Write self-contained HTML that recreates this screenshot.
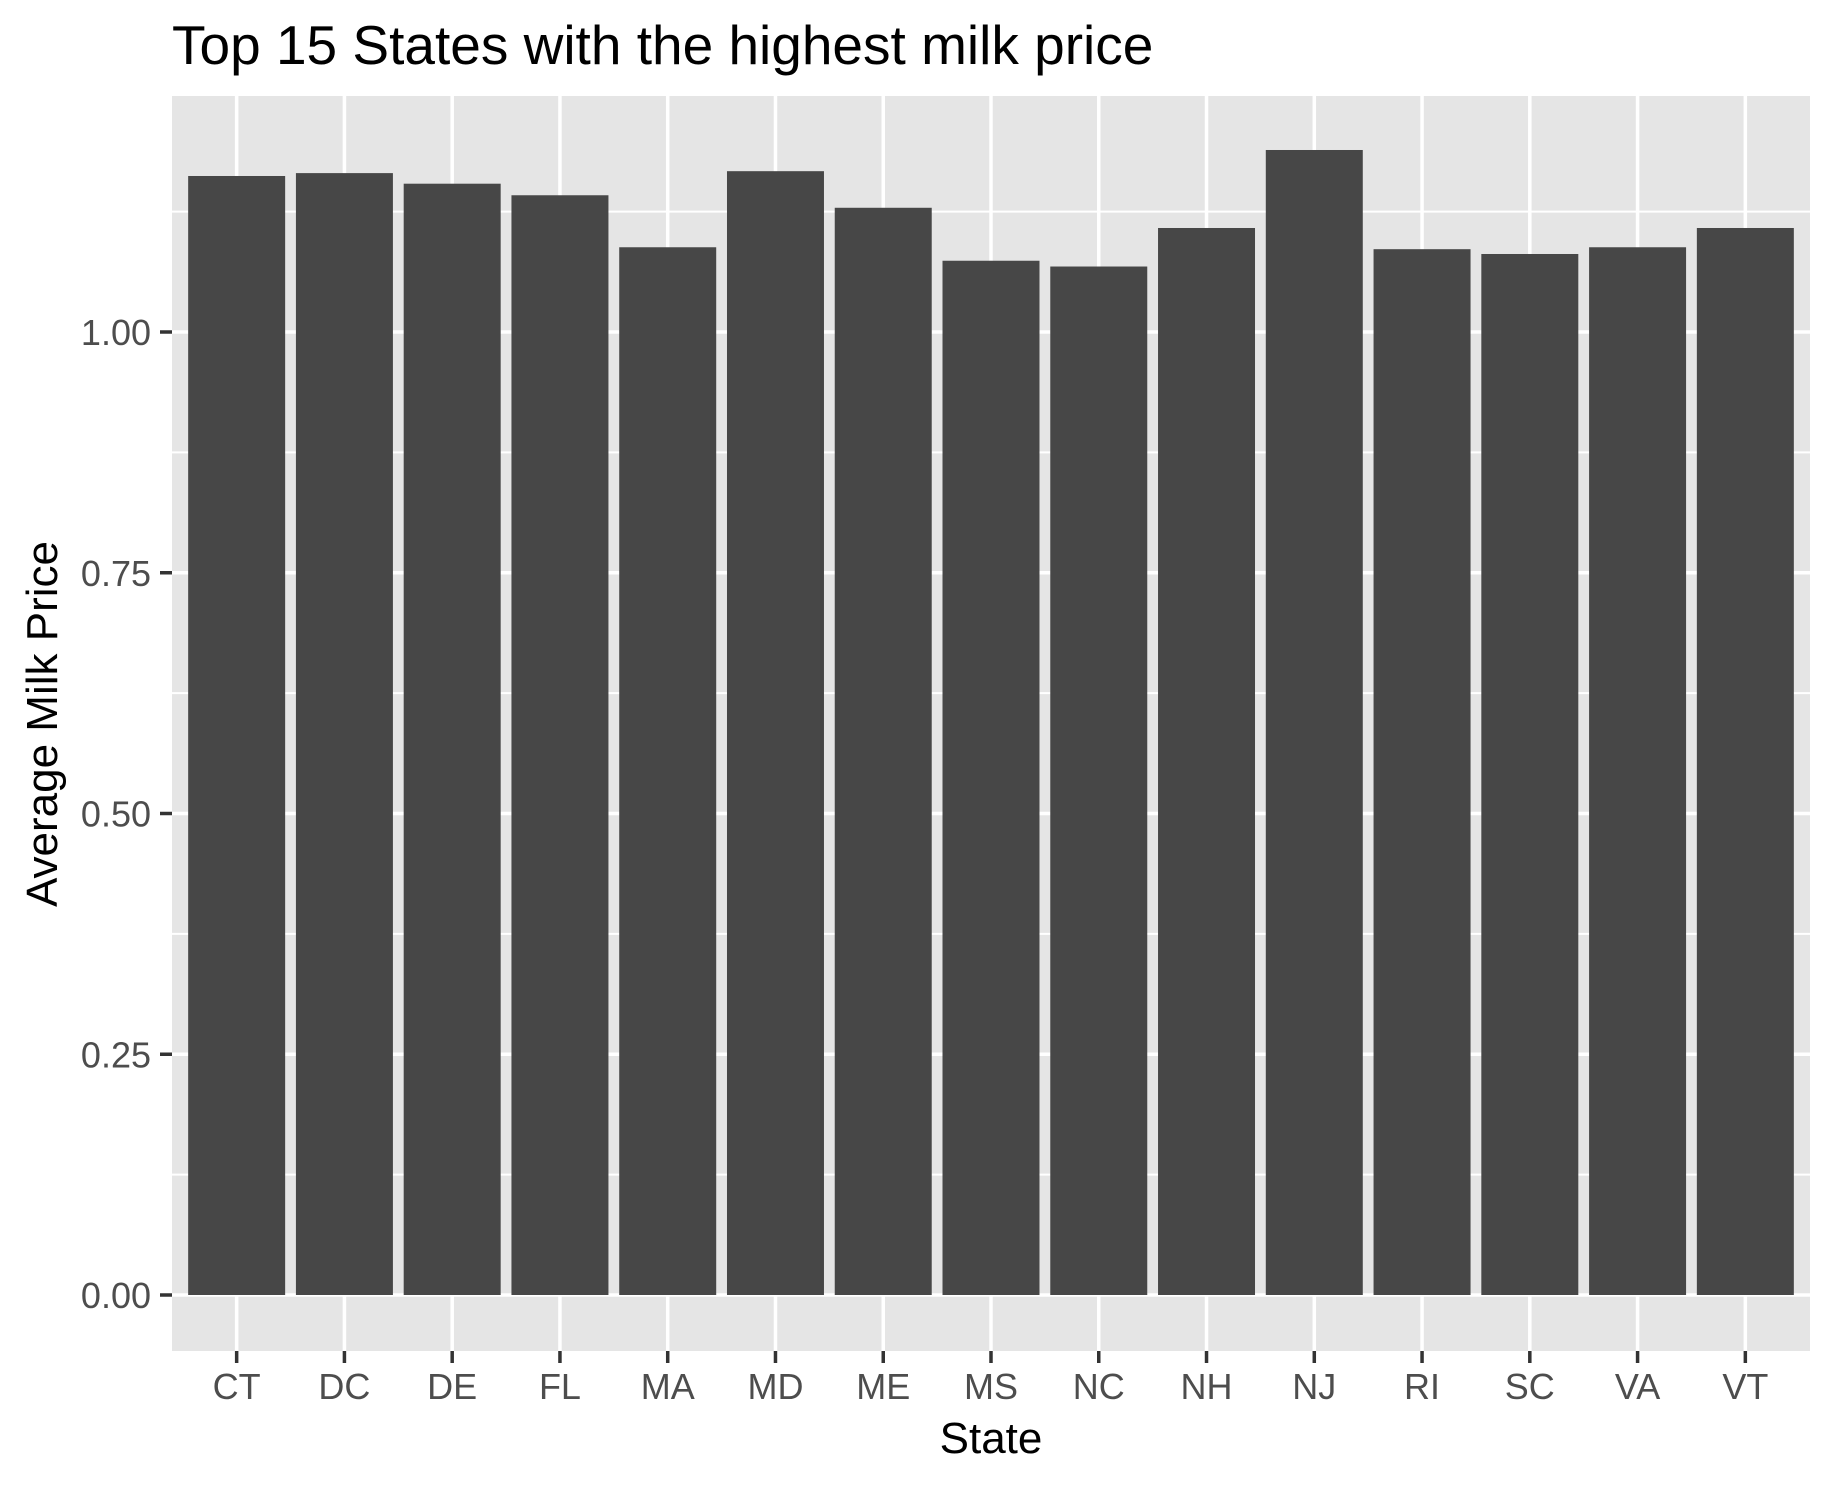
<!DOCTYPE html>
<html><head><meta charset="utf-8"><style>
html,body{margin:0;padding:0;background:#fff}
svg{display:block;font-family:"Liberation Sans",Arial,sans-serif}
</style></head><body>
<svg id="chart" width="1833" height="1487" viewBox="0 0 1833 1487">
<text x="172" y="64" font-size="55" fill="#000">Top 15 States with the highest milk price</text>
<rect x="172" y="96" width="1638" height="1255" fill="#E5E5E5"/>
<g id="grid"></g><g id="bars"></g><g id="axes"></g>
<text x="991" y="1453" font-size="44" text-anchor="middle" fill="#000">State</text>
<text transform="translate(57,724) rotate(-90)" font-size="44" text-anchor="middle" fill="#000">Average Milk Price</text>
</svg>
<script>
const categories=["CT","DC","DE","FL","MA","MD","ME","MS","NC","NH","NJ","RI","SC","VA","VT"];
const values=[1.162,1.165,1.154,1.142,1.088,1.167,1.129,1.074,1.068,1.108,1.189,1.086,1.081,1.088,1.108];
const yTicks=[0,0.25,0.5,0.75,1.0];
const yTickLabels=["0.00","0.25","0.50","0.75","1.00"];
const yMinor=[0.125,0.375,0.625,0.875,1.125];
const NS="http://www.w3.org/2000/svg";
const L=172,R=1810,T=96,B=1351,Y0=1295,Y1=332;
const y=v=>Y0-(Y0-Y1)*v;
const unit=(R-L)/(categories.length-1+1.2);
const x=i=>L+(0.6+i)*unit;
function mk(tag,attrs,parent){const e=document.createElementNS(NS,tag);for(const k in attrs)e.setAttribute(k,attrs[k]);parent.appendChild(e);return e;}
const grid=document.getElementById('grid'),bars=document.getElementById('bars'),axes=document.getElementById('axes');
yMinor.forEach(v=>{const l=mk('line',{x1:L,x2:R,y1:y(v),y2:y(v),stroke:'#fff','stroke-width':2},grid);

});
yTicks.forEach((v,i)=>{const l=mk('line',{x1:L,x2:R,y1:y(v),y2:y(v),stroke:'#fff','stroke-width':3.5},grid);


const t=mk('line',{x1:160,x2:172,y1:y(v),y2:y(v),stroke:'#333','stroke-width':3.5},axes);


const tx=mk('text',{x:151,y:y(v)+13,'font-size':36,'text-anchor':'end',fill:'#4D4D4D'},axes);
tx.textContent=yTickLabels[i];

});
categories.forEach((c,i)=>{const cx=x(i);
const g=mk('line',{x1:cx,x2:cx,y1:T,y2:B,stroke:'#fff','stroke-width':3.5},grid);


const bw=unit*0.9;
const b=mk('rect',{x:cx-bw/2,y:y(values[i]),width:bw,height:Y0-y(values[i]),fill:'#474747'},bars);


const t=mk('line',{x1:cx,x2:cx,y1:B,y2:B+12,stroke:'#333','stroke-width':3.5},axes);


const tx=mk('text',{x:cx,y:1399,'font-size':36,'text-anchor':'middle',fill:'#4D4D4D'},axes);
tx.textContent=c;

});
</script>
</body></html>
